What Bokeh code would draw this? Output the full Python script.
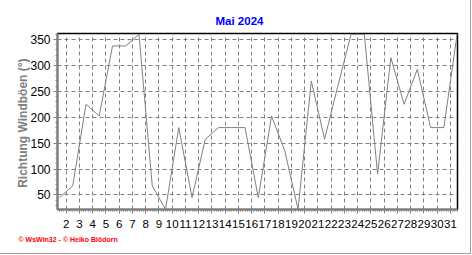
from bokeh.plotting import figure
from bokeh.models import Range1d, FixedTicker, Title
from bokeh.embed import file_html
from bokeh.resources import INLINE

# Daily gust direction (degrees), May 2024
days = list(range(1, 32))
direction = [45, 67.5, 225, 202.5, 337.5, 337.5, 360, 67.5, 22.5, 180,
             45, 157.5, 180, 180, 180, 45, 202.5, 135, 22.5, 270,
             157.5, 260, 360, 360, 90, 315, 225, 292.5, 180, 180, 360]
x_ticks = list(range(2, 32))
y_ticks = [50, 100, 150, 200, 250, 300, 350]
title_text = "Mai 2024"
y_label = "Richtung Windböen  (°)"
footer_text = "© WsWin32  -  © Heiko Blödorn"

# daily value plotted at noon of its day
x_noon = [d + 0.5 for d in days]

p = figure(width=471, height=254, output_backend="svg", toolbar_location=None,
           x_range=Range1d(1.35, 31.53), y_range=Range1d(22, 361.5),
           min_border_left=57, min_border_right=14, min_border_top=33,
           min_border_bottom=45, background_fill_color="white",
           border_fill_color="white")
p.styles = {"border-right": "1px solid #a0a0a0", "border-bottom": "1px solid #a0a0a0"}

p.line(x_noon, direction, line_color="#808080", line_width=1)

p.outline_line_color = "black"
p.outline_line_width = 1.5

# axes
x_minor = [d + k / 6 for d in range(1, 32) for k in range(6)]
y_minor = list(range(30, 361, 10))
p.xaxis.ticker = FixedTicker(ticks=x_ticks, minor_ticks=x_minor)
p.yaxis.ticker = FixedTicker(ticks=y_ticks, minor_ticks=y_minor)
for ax in (p.xaxis[0], p.yaxis[0]):
    ax.axis_line_color = "#808080"
    ax.axis_line_width = 2
    ax.major_tick_line_color = "#808080"
    ax.minor_tick_line_color = "#808080"
    ax.major_tick_out = 4
    ax.major_tick_in = 0
    ax.minor_tick_out = 2
    ax.minor_tick_in = 0
    ax.major_label_text_color = "black"
    ax.major_label_text_font = "Liberation Sans"
p.xaxis.major_label_text_font_size = "11.5px"
p.yaxis.major_label_text_font_size = "12px"
p.xaxis.major_label_standoff = 6
p.yaxis.major_label_standoff = 3

p.yaxis.axis_label = y_label
p.yaxis.axis_label_text_font = "Liberation Sans"
p.yaxis.axis_label_text_font_style = "bold"
p.yaxis.axis_label_text_font_size = "12px"
p.yaxis.axis_label_text_color = "#808080"
p.yaxis.axis_label_standoff = -3

# grid
p.xgrid.ticker = FixedTicker(ticks=x_ticks)
p.ygrid.ticker = FixedTicker(ticks=y_ticks)
for g in (p.xgrid[0], p.ygrid[0]):
    g.grid_line_color = "#808080"
    g.grid_line_dash = "4 3"
    g.grid_line_width = 1

t = Title(text=title_text, align="left", offset=158, text_color="blue",
          text_font="Liberation Sans", text_font_style="bold",
          text_font_size="11.5px", standoff=13)
p.add_layout(t, "above")

f = Title(text=footer_text, align="left", offset=-39, text_color="red",
          text_font="Liberation Sans", text_font_style="bold",
          text_font_size="7px", standoff=7)
p.add_layout(f, "below")

open("out.html", "w").write(file_html(p, INLINE))
